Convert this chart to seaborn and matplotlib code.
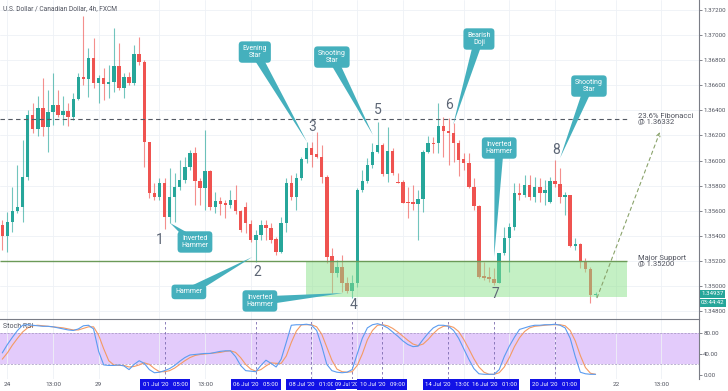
import matplotlib
matplotlib.use("Agg")
import matplotlib.pyplot as plt
import numpy as np
import pandas as pd
import seaborn as sns

# USD/CAD 4h candles
opens = [1.35486, 1.35399, 1.35508, 1.35598, 1.35627, 1.35866, 1.36363, 1.36251, 1.36422, 1.36270,
         1.36390, 1.36443, 1.36363, 1.36398, 1.36344, 1.36491, 1.36663, 1.36647, 1.36820, 1.36615,
         1.36655, 1.36610, 1.36629, 1.36754, 1.36576, 1.36669, 1.36621, 1.36849, 1.36788, 1.36150,
         1.35739, 1.35707, 1.35818, 1.35553, 1.35712, 1.35792, 1.35845, 1.35951, 1.36057, 1.35840,
         1.35779, 1.35917, 1.35627, 1.35680, 1.35659, 1.35646, 1.35686, 1.35600, 1.35632, 1.35494,
         1.35367, 1.35407, 1.35486, 1.35460, 1.35372, 1.35274, 1.35505, 1.35824, 1.35712, 1.35858,
         1.36010, 1.36103, 1.36050, 1.36031, 1.35872, 1.35239, 1.35106, 1.35154, 1.35021, 1.34963,
         1.35021, 1.35765, 1.35840, 1.35965, 1.36065, 1.36124, 1.35893, 1.36076, 1.35832, 1.35829,
         1.35672, 1.35672, 1.35651, 1.35691, 1.36071, 1.36143, 1.36137, 1.36275, 1.36238, 1.36222,
         1.36143, 1.36010, 1.35983, 1.35792, 1.35638, 1.35080, 1.35074, 1.35053, 1.35027, 1.35260,
         1.35380, 1.35468, 1.35739, 1.35725, 1.35805, 1.35707, 1.35787, 1.35744, 1.35667, 1.35840,
         1.35813, 1.35712, 1.35725, 1.35319, 1.35335, 1.35202, 1.35133, 1.34928]
highs = [1.35526, 1.35593, 1.35792, 1.35965, 1.36164, 1.36403, 1.36461, 1.36515, 1.36655, 1.36562,
         1.36700, 1.36562, 1.36515, 1.36456, 1.36536, 1.36695, 1.37152, 1.36900, 1.36974, 1.36682,
         1.36735, 1.36762, 1.37054, 1.36934, 1.36695, 1.36708, 1.36921, 1.36987, 1.36801, 1.36150,
         1.35818, 1.35858, 1.35858, 1.35938, 1.35898, 1.36004, 1.36031, 1.36084, 1.36111, 1.35858,
         1.36243, 1.35925, 1.35752, 1.35712, 1.35686, 1.35765, 1.35805, 1.35606, 1.35672, 1.35526,
         1.35446, 1.35526, 1.35526, 1.35500, 1.35393, 1.35553, 1.35858, 1.35885, 1.35898, 1.36031,
         1.36150, 1.36150, 1.36230, 1.36124, 1.35885, 1.35300, 1.35207, 1.35247, 1.35074, 1.35088,
         1.35779, 1.35925, 1.36018, 1.36137, 1.36310, 1.36137, 1.36270, 1.36097, 1.35898, 1.35845,
         1.35792, 1.35805, 1.35765, 1.36084, 1.36196, 1.36190, 1.36456, 1.36350, 1.36336, 1.36297,
         1.36164, 1.36057, 1.36057, 1.35858, 1.35646, 1.35194, 1.35154, 1.35141, 1.35266, 1.35473,
         1.35500, 1.35818, 1.35818, 1.35885, 1.35885, 1.35872, 1.35858, 1.35845, 1.35872, 1.36004,
         1.35938, 1.35752, 1.35725, 1.35380, 1.35345, 1.35221, 1.35154, 1.34955]
lows = [1.35287, 1.35274, 1.35433, 1.35579, 1.35513, 1.35845, 1.36222, 1.36198, 1.36198, 1.36071,
        1.36283, 1.36350, 1.36283, 1.36275, 1.36323, 1.36483, 1.36602, 1.36509, 1.36576, 1.36461,
        1.36483, 1.36496, 1.36549, 1.36562, 1.36496, 1.36602, 1.36602, 1.36762, 1.35951, 1.35699,
        1.35686, 1.35686, 1.35452, 1.35500, 1.35513, 1.35765, 1.35818, 1.35925, 1.35646, 1.35646,
        1.35606, 1.35606, 1.35579, 1.35566, 1.35539, 1.35619, 1.35574, 1.35433, 1.35420, 1.35353,
        1.35194, 1.35367, 1.35367, 1.35340, 1.35247, 1.35260, 1.35433, 1.35686, 1.35606, 1.35845,
        1.35978, 1.35951, 1.36018, 1.35818, 1.35181, 1.34942, 1.35074, 1.34955, 1.34942, 1.34902,
        1.34995, 1.35752, 1.35818, 1.35938, 1.36057, 1.35879, 1.35832, 1.35885, 1.35818, 1.35659,
        1.35539, 1.35606, 1.35367, 1.35593, 1.36057, 1.36057, 1.36057, 1.36031, 1.35965, 1.35991,
        1.35877, 1.35925, 1.35779, 1.35606, 1.35061, 1.35048, 1.35035, 1.35008, 1.35021, 1.35247,
        1.35114, 1.35446, 1.35686, 1.35712, 1.35686, 1.35672, 1.35672, 1.35646, 1.35659, 1.35792,
        1.35659, 1.35566, 1.35308, 1.35287, 1.35141, 1.35114, 1.34862, 1.34915]
closes = [1.35399, 1.35508, 1.35598, 1.35627, 1.35866, 1.36363, 1.36251, 1.36422, 1.36270, 1.36390,
          1.36443, 1.36363, 1.36398, 1.36344, 1.36491, 1.36663, 1.36647, 1.36820, 1.36615, 1.36655,
          1.36610, 1.36629, 1.36754, 1.36576, 1.36669, 1.36621, 1.36849, 1.36788, 1.36150, 1.35739,
          1.35707, 1.35818, 1.35553, 1.35712, 1.35792, 1.35845, 1.35951, 1.36057, 1.35840, 1.35779,
          1.35917, 1.35632, 1.35680, 1.35654, 1.35646, 1.35686, 1.35600, 1.35446, 1.35500, 1.35367,
          1.35407, 1.35486, 1.35460, 1.35367, 1.35274, 1.35505, 1.35824, 1.35712, 1.35858, 1.36010,
          1.36103, 1.36044, 1.36031, 1.35872, 1.35234, 1.35106, 1.35154, 1.35021, 1.34963, 1.35021,
          1.35765, 1.35840, 1.35965, 1.36065, 1.36124, 1.35893, 1.36076, 1.35898, 1.35824, 1.35664,
          1.35659, 1.35651, 1.35691, 1.36071, 1.36143, 1.36135, 1.36275, 1.36238, 1.36222, 1.36143,
          1.36004, 1.35983, 1.35792, 1.35638, 1.35074, 1.35066, 1.35053, 1.35027, 1.35260, 1.35380,
          1.35468, 1.35739, 1.35725, 1.35805, 1.35707, 1.35787, 1.35744, 1.35765, 1.35840, 1.35813,
          1.35707, 1.35725, 1.35319, 1.35335, 1.35202, 1.35133, 1.34928, 1.34937]

stoch_k = [42, 58, 72, 85, 95, 96, 95, 94, 93, 93,
           92, 90, 88, 86, 85, 88, 94, 95, 88, 45,
           19, 18, 18, 19, 17, 10, 20, 27, 22, 10,
           4, 5, 8, 12, 18, 26, 33, 38, 39, 40,
           41, 41, 43, 45, 46, 46, 35, 18, 8, 7,
           6, 18, 28, 22, 15, 30, 62, 95, 96, 96,
           97, 95, 85, 55, 20, 8, 5, 4, 5, 10,
           40, 70, 90, 96, 98, 95, 90, 82, 74, 65,
           58, 54, 55, 68, 80, 90, 95, 95, 93, 85,
           70, 50, 30, 12, 2, 1, 1, 1, 10, 35,
           55, 72, 87, 90, 93, 95, 95, 96, 96, 97,
           95, 90, 70, 35, 5, 2, 1, 1]
stoch_d = [30, 42, 57, 70, 82, 90, 94, 95, 94, 93,
           92, 91, 90, 88, 86, 86, 89, 92, 92, 76,
           50, 27, 19, 18, 18, 15, 16, 19, 23, 20,
           12, 6, 6, 8, 13, 20, 27, 33, 37, 39,
           40, 41, 42, 43, 45, 46, 43, 33, 20, 11,
           7, 10, 17, 23, 22, 22, 36, 62, 84, 96,
           96, 96, 92, 78, 53, 28, 11, 6, 5, 6,
           18, 40, 67, 85, 95, 96, 94, 89, 82, 74,
           66, 59, 56, 59, 68, 79, 88, 93, 94, 91,
           83, 68, 50, 31, 15, 5, 1, 1, 4, 15,
           33, 54, 71, 83, 90, 93, 94, 95, 96, 96,
           96, 94, 85, 65, 37, 14, 3, 1]

fib_level = 1.36332
support_level = 1.35200
zone_bottom = 1.34913
target_price = 1.36228
last_price_label = "1.34937"
countdown_label = "03:44:42"

grid_idx = [1, 10, 19, 31, 40, 49, 61, 70, 79, 91, 100, 109, 121, 130]
grid_labels = ["24", "13:00", "29", "", "13:00", "", "", "", "", "", "", "", "22", "13:00"]
marker_idx = [32.1, 50.0, 60.9, 69.0, 74.9, 87.9, 97.0, 109.0]
marker_labels = ["01 Jul '20   05:00", "06 Jul '20   05:00", "08 Jul '20   01:00", "09 Jul '20",
                 "10 Jul '20   09:00", "14 Jul '20   13:00", "16 Jul '20   01:00", "20 Jul '20   01:00"]

callouts = [
    ("Evening\nStar", (49.8, 1.36865), (60.1, 1.36148)),
    ("Shooting\nStar", (65.0, 1.36825), (73.1, 1.36204)),
    ("Bearish\nDoji", (94.0, 1.36969), (88.9, 1.36283)),
    ("Inverted\nHammer", (98.0, 1.36100), (97.0, 1.35231)),
    ("Shooting\nStar", (115.7, 1.36594), (110.0, 1.36020)),
    ("Inverted\nHammer", (38.0, 1.35351), (33.1, 1.35502)),
    ("Hammer", (36.8, 1.34953), (49.3, 1.35231)),
    ("Inverted\nHammer", (50.8, 1.34881), (67.2, 1.34944)),
]
swing_labels = [("1", 31.1, 1.35367), ("2", 50.2, 1.35112), ("3", 61.1, 1.36268), ("4", 69.2, 1.34849),
                ("5", 74.1, 1.36403), ("6", 88.1, 1.36443), ("7", 97.2, 1.34937), ("8", 109.2, 1.36084)]

UP = "#26a69a"
DOWN = "#ef5350"
TEAL = "#45b0bd"
TXT = "#50535e"

sns.set_style("white")
plt.rcParams["font.family"] = ["Roboto", "DejaVu Sans"]

df = pd.DataFrame({"open": opens, "high": highs, "low": lows, "close": closes})
df["idx"] = np.arange(len(df))
df["color"] = np.where(df["close"] >= df["open"], UP, DOWN)

fig = plt.figure(figsize=(7.28, 3.91), dpi=100)
ax = fig.add_axes([0, 72 / 391, 699 / 728, 319 / 391])
ax_s = fig.add_axes([0, 12 / 391, 699 / 728, 60 / 391])

xlim = (-0.45, 137.4)

# candles
ax.vlines(df["idx"], df["low"], df["high"], colors=df["color"], lw=0.8, alpha=0.65, zorder=2)
body = (df["close"] - df["open"]).abs().clip(lower=0.00004)
ax.bar(df["idx"], body, bottom=df[["open", "close"]].min(axis=1), width=0.68,
       color=df["color"], zorder=2.5, linewidth=0)

# support zone and levels
zone_start = 59.9
zone_end = 123.2
ax.fill_between([zone_start, zone_end], zone_bottom, support_level, color="#8be38a", alpha=0.5,
                lw=0, zorder=3)
ax.hlines(support_level, xlim[0], zone_end, color="#6b9a58", lw=1.0, zorder=4)
ax.hlines(fib_level, xlim[0], zone_end, color="#555a63", lw=0.8, linestyles=(0, (4, 3)), zorder=4)
ax.text(125.4, fib_level, "23.6% Fibonacci\n@ 1.36332", fontsize=5.5, color=TXT, va="center",
        ha="left", linespacing=0.95)
ax.text(125.4, support_level, "Major Support\n@ 1.35200", fontsize=5.5, color=TXT, va="center",
        ha="left", linespacing=0.95)

# projected move
ax.annotate("", xy=(129.7, target_price), xytext=(df["idx"].iloc[-1] + 0.3, closes[-1] - 0.0003),
            arrowprops=dict(arrowstyle="->", color="#8aa36b", lw=0.8, ls=(0, (3, 3)),
                            shrinkA=0, shrinkB=0, mutation_scale=6), zorder=4)

# pattern callouts
for text, box, tip in callouts:
    ax.annotate(text, xy=tip, xytext=box, ha="center", va="center", fontsize=5, color="white",
                linespacing=0.95,
                bbox=dict(boxstyle="round,pad=0.55,rounding_size=0.5", fc=TEAL, ec="none"),
                arrowprops=dict(arrowstyle="wedge,tail_width=1.3,shrink_factor=0.5", fc=TEAL,
                                ec="none", shrinkA=0, shrinkB=0, patchA=None),
                zorder=6)

for lab, xi, yp in swing_labels:
    ax.text(xi, yp, lab, fontsize=10, color="#5d6675", ha="center", va="center", zorder=6)

ax.text(0.005, 0.985, "U.S. Dollar / Canadian Dollar, 4h, FXCM", transform=ax.transAxes,
        fontsize=4.8, color=TXT, ha="left", va="top")

# price axis
ax.set_xlim(*xlim)
ax.set_ylim(1.34737, 1.37280)
ax.set_yticks(np.arange(1.348, 1.3721, 0.002))
ax.yaxis.tick_right()
ax.yaxis.set_major_formatter(matplotlib.ticker.FormatStrFormatter("%.5f"))
ax.tick_params(axis="y", labelsize=4.4, colors=TXT, length=2, width=0.5, pad=1)
ax.set_xticks(grid_idx)
ax.tick_params(axis="x", length=0, labelbottom=False)
ax.grid(True, color="#eef1f6", lw=0.6)
for side in ["top", "left", "bottom"]:
    ax.spines[side].set_visible(False)
ax.spines["right"].set_color("#7a7d86")
ax.spines["right"].set_linewidth(0.8)

ax.text(1.003, float(last_price_label), last_price_label, transform=ax.get_yaxis_transform(),
        fontsize=4.4, color="white", va="center", ha="left",
        bbox=dict(boxstyle="square,pad=0.25", fc=UP, ec="none"))
ax.text(1.003, float(last_price_label) - 0.00072, countdown_label, transform=ax.get_yaxis_transform(),
        fontsize=4.4, color="white", va="center", ha="left",
        bbox=dict(boxstyle="square,pad=0.25", fc=UP, ec="none"))

# stochastic RSI panel
ax_s.axhspan(20, 80, color="#e3cbfb", lw=0, zorder=0)
ax_s.axhline(80, color="#a093bd", lw=0.5, ls=(0, (3, 2)), zorder=1)
ax_s.axhline(20, color="#a093bd", lw=0.5, ls=(0, (3, 2)), zorder=1)
for xi in marker_idx:
    ax_s.axvline(xi, color="#7b6bb0", lw=0.6, ls=(0, (3, 3)), zorder=1)

stoch = pd.DataFrame({"idx": df["idx"], "K": stoch_k, "D": stoch_d})
sns.lineplot(data=stoch, x="idx", y="D", ax=ax_s, color="#f49a63", lw=0.8, zorder=3)
sns.lineplot(data=stoch, x="idx", y="K", ax=ax_s, color="#5b9cf0", lw=0.8, zorder=4)
ax_s.set_xlabel("")
ax_s.set_ylabel("")
ax_s.set_xlim(*xlim)
ax_s.set_ylim(-8, 107)
ax_s.yaxis.tick_right()
ax_s.set_yticks([0, 40, 80])
ax_s.set_yticklabels(["0.00", "40.00", "80.00"])
ax_s.tick_params(axis="y", labelsize=4.4, colors=TXT, length=2, width=0.5, pad=1)
ax_s.set_xticks(grid_idx)
ax_s.set_xticklabels(grid_labels)
ax_s.tick_params(axis="x", labelsize=4.6, colors=TXT, length=0, pad=2)
ax_s.grid(True, axis="x", color="#eef1f6", lw=0.6)
ax_s.spines["left"].set_visible(False)
ax_s.spines["bottom"].set_visible(False)
ax_s.spines["top"].set_color("#7a7d86")
ax_s.spines["top"].set_linewidth(0.8)
ax_s.spines["right"].set_color("#7a7d86")
ax_s.spines["right"].set_linewidth(0.8)
ax_s.text(0.005, 0.93, "Stoch RSI", transform=ax_s.transAxes, fontsize=5, color=TXT,
          ha="left", va="top")

# blue date markers under the indicator; the short one is centred in the gap between its neighbours
for i, (xi, lab) in enumerate(zip(marker_idx, marker_labels)):
    short = "   " not in lab
    ax_s.text(xi - 1.2 if short else xi, -0.09, lab, transform=ax_s.get_xaxis_transform(),
              fontsize=4.0 if short else 4.3, color="white", ha="center", va="center",
              clip_on=False, zorder=10 + i,
              bbox=dict(boxstyle="square,pad=0.35" if short else "square,pad=0.45",
                        fc="#1212e6", ec="none"))

fig.savefig("out.png", dpi=100)
